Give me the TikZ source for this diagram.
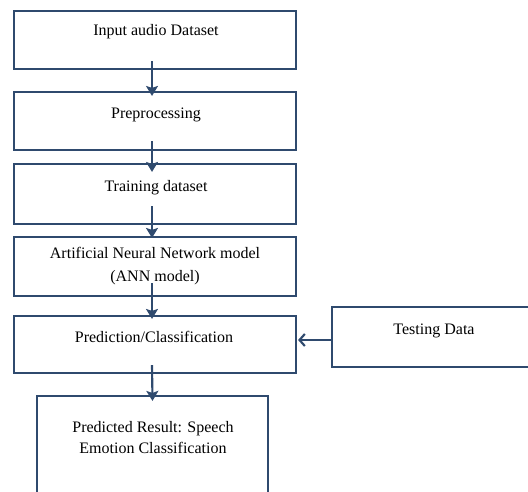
\documentclass[tikz,border=0pt]{standalone}
\usepackage{fontspec}
\setmainfont{Liberation Serif}
\usetikzlibrary{arrows.meta,calc}

\definecolor{navy}{RGB}{47,74,110}
\tikzset{every picture/.style={line width=0.75pt}}
\tikzset{
  box/.style={draw=navy,line width=1.6pt,rectangle,inner sep=0pt,minimum width=211.5pt},
  boxtext/.style={inner sep=0.75pt,align=center,font=\fontsize{12}{14.5}\selectfont},
  flow/.style={draw=navy,line width=1.6pt,-{Stealth[length=7.5pt,width=9pt,inset=1.5pt]}},
  side/.style={draw=navy,line width=1.6pt,-{Straight Barb[length=4pt,width=9pt,line width=1.6pt]}}
}

\begin{document}
\begin{tikzpicture}[x=0.75pt,y=0.75pt,yscale=-1]
\useasboundingbox (0,0) rectangle (528,492);
\clip (0,0) rectangle (528,492);

%Flowchart: Process [id:input]
\node[box,minimum height=43.5pt] (input) at (155,40) {};
%Flowchart: Process [id:prep]
\node[box,minimum height=43.5pt] (prep) at (155,121) {};
%Flowchart: Process [id:train]
\node[box,minimum height=45pt] (train) at (155,194) {};
%Flowchart: Process [id:ann]
\node[box,minimum height=44.25pt] (ann) at (155,266.5) {};
%Flowchart: Process [id:pred]
\node[box,minimum height=42.75pt] (pred) at (155,344.5) {};
%Flowchart: Process [id:result]
\node[box,minimum width=173.25pt,minimum height=90pt] (result) at (152.5,456) {};
%Flowchart: Process [id:test]
\node[box,minimum width=171pt,minimum height=45pt] (test) at (446,337) {};

%Straight Lines [id:a1]
\draw[flow] ($(input.south)+(-3,-9)$) -- ($(prep.north)+(-3,5)$);
%Straight Lines [id:a2]
\draw[flow] ($(prep.south)+(-3,-10)$) -- ($(train.north)+(-3,9)$);
%Straight Lines [id:a3]
\draw[flow] ($(train.south)+(-3,-19)$) -- ($(ann.north)+(-3,2)$);
%Straight Lines [id:a4]
\draw[flow] ($(ann.south)+(-3,-14)$) -- ($(pred.north)+(-3,4)$);
%Straight Lines [id:a5]
\draw[flow] ($(pred.south)+(-3,-9)$) -- ($(result.north)+(0,6)$);
%Straight Lines [id:a6]
\draw[side] ($(test.west)+(0,3)$) -- ($(pred.east)+(1,-4.5)$);

% Text Node
\node[boxtext] (input-t) at (156,32) {Input audio Dataset};
% Text Node
\node[boxtext] (prep-t) at (156,115) {Preprocessing};
% Text Node
\node[boxtext] (train-t) at (156,188) {Training dataset};
% Text Node
\node[boxtext,font=\fontsize{12}{17.25}\selectfont] (ann-t) at (155,266.5) {Artificial Neural Network model\\(ANN model)};
% Text Node
\node[boxtext] (pred-t) at (154,337) {Prediction/Classification};
% Text Node
\node[boxtext] (test-t) at (434,331) {Testing Data};
% Text Node
\node[boxtext,font=\fontsize{12}{15.75}\selectfont] (result-t) at (153,437.5) {Predicted Result: Speech\\Emotion Classification};
\end{tikzpicture}
\end{document}
